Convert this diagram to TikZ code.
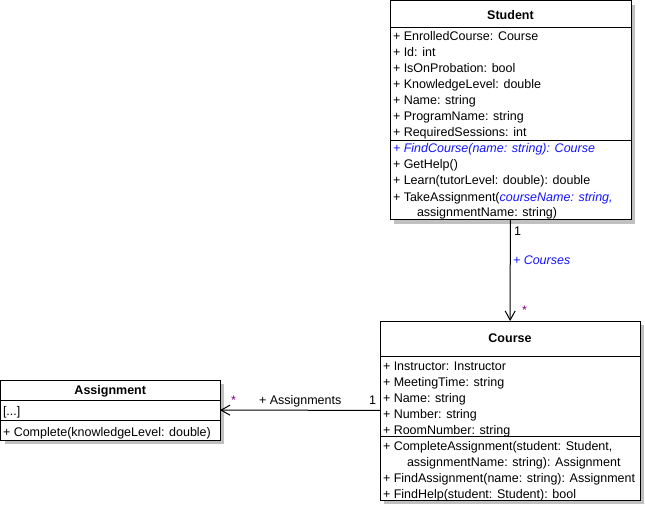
\documentclass[tikz,border=0pt]{standalone}
\usepackage{fontspec}
\setmainfont{Liberation Sans}
\usetikzlibrary{arrows.meta}
\usetikzlibrary{shadows}

\definecolor{umlblue}{RGB}{20,20,255}
\definecolor{umlpurple}{RGB}{128,0,128}
\definecolor{umlshadow}{RGB}{192,192,192}

\begin{document}
\begin{tikzpicture}[x=1pt,y=-1pt,inner sep=0pt,outer sep=0pt,line width=1pt,
font=\fontsize{12.5}{16}\selectfont,
>={Straight Barb[length=9pt,width=10pt]},
classbox/.style={draw,fill=white,rectangle,anchor=north west,
  copy shadow={shadow xshift=4pt,shadow yshift=-4pt,fill=umlshadow,draw=none}},
classname/.style={font=\fontsize{12.5}{16}\selectfont\bfseries},
member/.style={anchor=base west},
blueit/.style={text=umlblue,font=\fontsize{12.5}{16}\selectfont\itshape}]

\useasboundingbox (0,0) rectangle (645,505);

% class boxes
\draw (390,1) node[classbox,minimum width=241pt,minimum height=219pt] (student) {};
\draw (380,321) node[classbox,minimum width=260pt,minimum height=179pt] (course) {};
\draw (0.5,380) node[classbox,minimum width=219.5pt,minimum height=60pt] (assignment) {};

% compartments
\draw (390,28) -- (631,28);
\draw (390,141) -- (631,141);
\draw (380,356) -- (640,356);
\draw (380,436) -- (640,436);
\draw (0.5,400) -- (220,400);
\draw (0.5,420) -- (220,420);

% Student
\draw (student.north |- 0,15) node[classname] (student name) {Student};
\draw (393,41) node[member] {+ EnrolledCourse: Course};
\draw (393,57) node[member] {+ Id: int};
\draw (393,73) node[member] {+ IsOnProbation: bool};
\draw (393,89) node[member] {+ KnowledgeLevel: double};
\draw (393,105) node[member] {+ Name: string};
\draw (393,121) node[member] {+ ProgramName: string};
\draw (393,137) node[member] {+ RequiredSessions: int};
\draw (393,153) node[member,blueit] {+ FindCourse(name: string): Course};
\draw (393,169) node[member] {+ GetHelp()};
\draw (393,185) node[member] {+ Learn(tutorLevel: double): double};
\draw (393,201) node[member] {+ TakeAssignment(\textcolor{umlblue}{\itshape courseName: string,}};
\draw (417,217) node[member] {assignmentName: string)};

% Course
\draw (course.north |- 0,338) node[classname] (course name) {Course};
\draw (383,370) node[member] {+ Instructor: Instructor};
\draw (383,386) node[member] {+ MeetingTime: string};
\draw (383,402) node[member] {+ Name: string};
\draw (383,418) node[member] {+ Number: string};
\draw (383,434) node[member] {+ RoomNumber: string};
\draw (383,450) node[member] {+ CompleteAssignment(student: Student,};
\draw (407,466) node[member] {assignmentName: string): Assignment};
\draw (383,482) node[member] {+ FindAssignment(name: string): Assignment};
\draw (383,498) node[member] {+ FindHelp(student: Student): bool};

% Assignment
\draw (assignment.north |- 0,391) node[classname] (assignment name) {Assignment};
\draw (3,415) node[member] {[...]};
\draw (3,436) node[member] {+ Complete(knowledgeLevel: double)};

% associations
\draw[->] (student) -- (course);
\draw (514,236) node[member] {1};
\draw (513,264) node[member,blueit] {+ Courses};
\draw (522,314) node[member,text=umlpurple] {*};

\draw[->] (course) -- (assignment);
\draw (231,404) node[member,text=umlpurple] {*};
\draw (259,404) node[member] {+ Assignments};
\draw (369,404) node[member] {1};

\end{tikzpicture}
\end{document}
